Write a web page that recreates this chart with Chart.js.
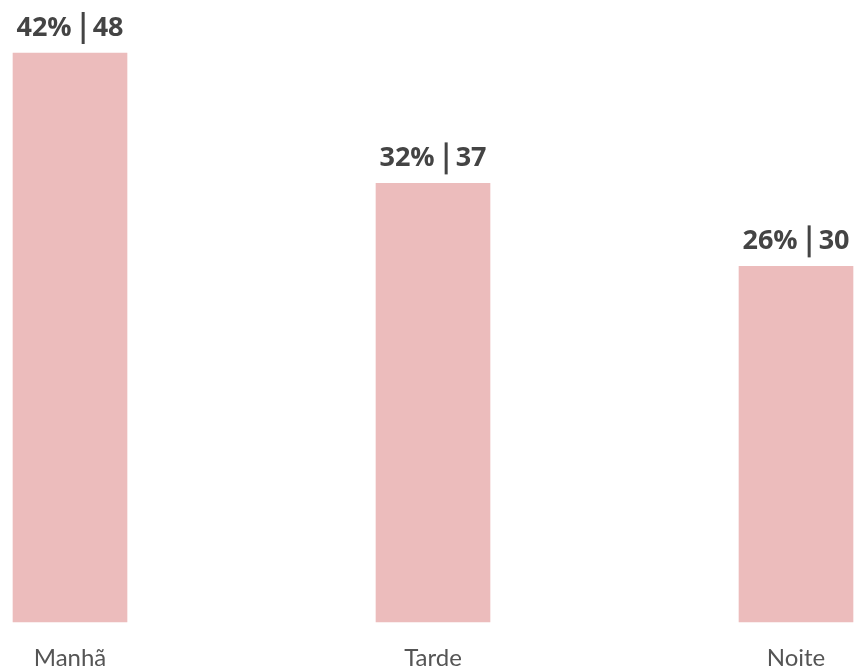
<!DOCTYPE html>
<html>
<head>
<meta charset="utf-8">
<script src="https://cdn.jsdelivr.net/npm/chart.js@4/dist/chart.umd.min.js"></script>
<style>
  html, body { margin: 0; padding: 0; background: #fff; }
  #wrap { width: 856px; height: 671px; }
</style>
</head>
<body>
<div id="wrap"><canvas id="myChart" width="856" height="671"></canvas></div>
<script>
const periods = ["Manhã", "Tarde", "Noite"]
const counts = [48, 37, 30]
const percents = [42, 32, 26]

// label above each bar: "42% | 48"
const topLabels = {
  id: "topLabels",
  afterDatasetsDraw(chart) {
    const ctx = chart.ctx
    const meta = chart.getDatasetMeta(0)
    ctx.save()
    ctx.font = "bold 27px 'Open Sans'"
    ctx.fillStyle = "#444444"
    ctx.textBaseline = "alphabetic"
    meta.data.forEach((bar, i) => {
      const left = percents[i] + "%"
      const right = String(counts[i])
      const wl = ctx.measureText(left).width
      const wr = ctx.measureText(right).width
      const gap = 10, pipeW = 3
      const total = wl + gap + pipeW + gap - 2 + wr
      let x = bar.x - total / 2
      const y = bar.y - 17
      ctx.fillText(left, x, y)
      x += wl + gap
      ctx.fillRect(x, y - 24, pipeW, 32)
      x += pipeW + gap - 2
      ctx.fillText(right, x, y)
    })
    ctx.restore()
  }
}

const ctx = document.getElementById("myChart").getContext("2d")
let myChart = new Chart(ctx, {
  type: "bar",
  data: {
    labels: periods,
    datasets: [{
      data: counts,
      backgroundColor: "#ecbcbc",
      borderWidth: 0,
      barThickness: 114,
      clip: false
    }]
  },
  options: {
    responsive: false,
    animation: false,
    layout: { padding: { top: 53, left: 70, right: 60, bottom: 0 } },
    plugins: { legend: { display: false }, tooltip: { enabled: false } },
    scales: {
      x: {
        offset: false,
        grid: { display: false, drawTicks: false },
        border: { display: false },
        ticks: { color: "#555555", font: { family: "Lato", size: 24 }, padding: 22, maxRotation: 0 },
        afterFit(scale) { scale.height = 49 }
      },
      y: {
        display: false,
        min: 0,
        max: 48
      }
    }
  },
  plugins: [topLabels]
})
</script>
</body>
</html>
